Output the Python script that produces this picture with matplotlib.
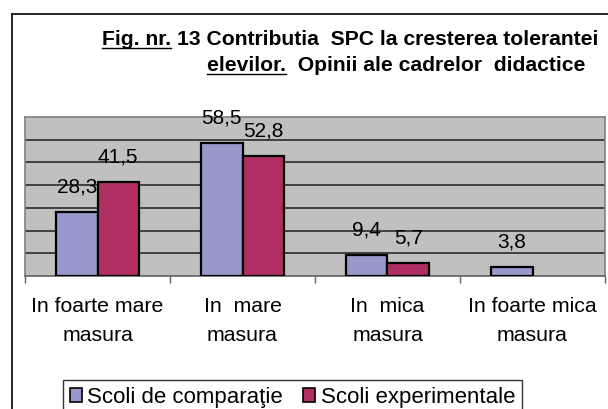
import numpy as np
import matplotlib.pyplot as plt
from matplotlib.patches import Patch
from matplotlib.lines import Line2D

plt.rcParams['font.family'] = ['Liberation Sans', 'DejaVu Sans']

categories = ['In foarte mare\nmasura', 'In  mare\nmasura', 'In  mica\nmasura', 'In foarte mica\nmasura']
comparatie = [28.3, 58.5, 9.4, 3.8]
experimentale = [41.5, 52.8, 5.7, 0]
series_names = ['Scoli de comparaţie', 'Scoli experimentale']
colors = ['#9898CC', '#B02E62']
title_lines = [('Fig. nr.', ' 13 Contributia  SPC la cresterea tolerantei'),
               ('elevilor.', '  Opinii ale cadrelor  didactice')]


def fmt(v):
    return f"{v:.1f}".replace('.', ',')


fig = plt.figure(figsize=(6.08, 4.09), dpi=100)
fig.patch.set_facecolor('white')

# chenarul exterior al diagramei
fig.add_artist(Line2D([12 / 608, 12 / 608], [0, 1 - 14 / 409], transform=fig.transFigure,
                      color='black', lw=1.2))
fig.add_artist(Line2D([12 / 608, 1.0], [1 - 14 / 409, 1 - 14 / 409], transform=fig.transFigure,
                      color='black', lw=1.2))

ax = fig.add_axes([25 / 608, 1 - 276 / 409, 580 / 608, 159 / 409])
ax.set_facecolor('#C0C0C0')

x = np.arange(len(categories))
w = 0.286
for i in range(len(categories)):
    for j, vals in enumerate([comparatie, experimentale]):
        v = vals[i]
        if v <= 0:
            continue
        xpos = x[i] + (j - 0.5) * w
        ax.bar(xpos, v, w, color=colors[j], edgecolor='black', linewidth=1.6, zorder=3)
        ax.annotate(fmt(v), (xpos, v), xytext=(0, 14), textcoords='offset points',
                    ha='center', va='baseline', fontsize=15, zorder=4)

ax.set_xlim(-0.5, len(categories) - 0.5)
ax.set_ylim(0, 70)
ax.set_yticks([])
for g in range(10, 70, 10):
    ax.axhline(g, color='#2a2a2a', lw=1.2, zorder=1)

ax.set_xticks(np.arange(-0.5, len(categories), 1.0))
ax.set_xticklabels([])
ax.set_xticks(x, minor=True)
ax.set_xticklabels(categories, minor=True, fontsize=15.3, linespacing=1.7)
ax.tick_params(axis='x', which='major', length=5, width=1, color='#606060')
ax.tick_params(axis='x', which='minor', length=0, pad=15)

for s in ax.spines.values():
    s.set_color('#808080')
    s.set_linewidth(1.2)
ax.spines['bottom'].set_color('#606060')

# titlul, cu primul cuvant subliniat
renderer = fig.canvas.get_renderer()
for (pre, rest), cx, cy in zip(title_lines, [350, 396.5], [39, 65]):
    t = fig.text(cx / 608, 1 - cy / 409, pre + rest, ha='center', va='baseline',
                 fontsize=15.2, fontweight='bold')
    t.set_y(1 - (cy + 6) / 409)
    bb = t.get_window_extent(renderer)
    tmp = fig.text(0, 0, pre, fontsize=15.2, fontweight='bold')
    pw = tmp.get_window_extent(renderer).width
    tmp.remove()
    y_ul = bb.y0 + (t.get_window_extent(renderer).y1 - bb.y0) * 0.0
    x0 = bb.x0 / fig.bbox.width
    x1 = (bb.x0 + pw) / fig.bbox.width
    yb = 1 - (cy + 8.5) / 409
    fig.add_artist(Line2D([x0, x1], [yb, yb], transform=fig.transFigure, color='black', lw=1.0))

handles = [Patch(facecolor=colors[k], edgecolor='black', linewidth=1.2) for k in range(2)]
leg = fig.legend(handles, series_names, loc='upper left',
                 bbox_to_anchor=(63 / 608, 1 - 380 / 409), bbox_transform=fig.transFigure,
                 ncol=2, fontsize=16, frameon=True, fancybox=False, borderpad=0.3,
                 handlelength=0.55, handleheight=0.55, handletextpad=0.25, columnspacing=0.9,
                 borderaxespad=0)
leg.get_frame().set_edgecolor('black')
leg.get_frame().set_linewidth(1.0)

fig.savefig('out.png', dpi=100)
